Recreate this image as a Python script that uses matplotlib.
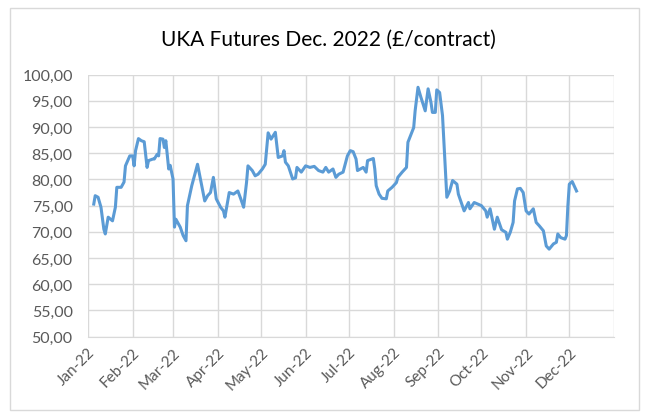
import matplotlib
matplotlib.use("Agg")
import matplotlib.pyplot as plt
import matplotlib.dates as mdates
from matplotlib.patches import Rectangle
from matplotlib.ticker import FuncFormatter, MultipleLocator
import pandas as pd

plt.rcParams['font.family'] = ['Lato', 'DejaVu Sans']

title = "UKA Futures Dec. 2022 (£/contract)"

dates = [
    "2022-01-05", "2022-01-06", "2022-01-08", "2022-01-10", "2022-01-12", "2022-01-13",
    "2022-01-15", "2022-01-18", "2022-01-20", "2022-01-21", "2022-01-24", "2022-01-26",
    "2022-01-27", "2022-01-30", "2022-02-01", "2022-02-02", "2022-02-03", "2022-02-05",
    "2022-02-07", "2022-02-09", "2022-02-11", "2022-02-12", "2022-02-15", "2022-02-16",
    "2022-02-18", "2022-02-19", "2022-02-20", "2022-02-22", "2022-02-23", "2022-02-24",
    "2022-02-26", "2022-02-27", "2022-03-01", "2022-03-02", "2022-03-03", "2022-03-06",
    "2022-03-08", "2022-03-10", "2022-03-11", "2022-03-14", "2022-03-18", "2022-03-20",
    "2022-03-23", "2022-03-25", "2022-03-27", "2022-03-29", "2022-03-31", "2022-04-03",
    "2022-04-05", "2022-04-06", "2022-04-09", "2022-04-12", "2022-04-15", "2022-04-17",
    "2022-04-19", "2022-04-21", "2022-04-22", "2022-04-25", "2022-04-27", "2022-04-29",
    "2022-05-02", "2022-05-04", "2022-05-06", "2022-05-08", "2022-05-11", "2022-05-13",
    "2022-05-16", "2022-05-17", "2022-05-18", "2022-05-20", "2022-05-23", "2022-05-25",
    "2022-05-26", "2022-05-29", "2022-06-01", "2022-06-04", "2022-06-07", "2022-06-10",
    "2022-06-13", "2022-06-15", "2022-06-17", "2022-06-20", "2022-06-22", "2022-06-24",
    "2022-06-27", "2022-06-30", "2022-07-02", "2022-07-04", "2022-07-06", "2022-07-07",
    "2022-07-11", "2022-07-13", "2022-07-14", "2022-07-18", "2022-07-19", "2022-07-20",
    "2022-07-22", "2022-07-24", "2022-07-27", "2022-07-28", "2022-07-31", "2022-08-03",
    "2022-08-04", "2022-08-07", "2022-08-10", "2022-08-11", "2022-08-15", "2022-08-16",
    "2022-08-18", "2022-08-20", "2022-08-23", "2022-08-25", "2022-08-27", "2022-08-28",
    "2022-08-30", "2022-08-31", "2022-09-02", "2022-09-04", "2022-09-07", "2022-09-09",
    "2022-09-11", "2022-09-14", "2022-09-15", "2022-09-17", "2022-09-19", "2022-09-22",
    "2022-09-23", "2022-09-26", "2022-10-01", "2022-10-04", "2022-10-05", "2022-10-07",
    "2022-10-10", "2022-10-12", "2022-10-15", "2022-10-18", "2022-10-19", "2022-10-21",
    "2022-10-23", "2022-10-24", "2022-10-26", "2022-10-28", "2022-10-30", "2022-11-01",
    "2022-11-03", "2022-11-06", "2022-11-08", "2022-11-10", "2022-11-13", "2022-11-15",
    "2022-11-17", "2022-11-20", "2022-11-22", "2022-11-23", "2022-11-25", "2022-11-28",
    "2022-11-29", "2022-11-30", "2022-12-01", "2022-12-03", "2022-12-06",
]

prices = [
    75.3, 76.9, 76.6, 74.7, 70.5, 69.6,
    72.8, 72.1, 74.7, 78.5, 78.5, 79.5,
    82.6, 84.5, 84.5, 82.6, 85.5, 87.8,
    87.4, 87.2, 82.3, 83.6, 83.9, 83.9,
    84.8, 84.5, 87.8, 87.7, 86.1, 87.4,
    82.0, 82.7, 80.1, 70.9, 72.4, 70.9,
    69.3, 68.3, 75.0, 78.8, 82.9, 80.1,
    75.9, 76.9, 77.5, 80.4, 76.3, 74.7,
    74.0, 72.8, 77.5, 77.2, 77.8, 76.3,
    74.7, 79.4, 82.6, 81.7, 80.7, 81.0,
    82.0, 82.9, 88.9, 87.7, 89.0, 84.2,
    84.5, 85.5, 83.3, 82.6, 80.1, 80.3,
    82.3, 81.4, 82.6, 82.3, 82.5, 81.7,
    81.4, 82.3, 81.4, 82.0, 80.4, 81.0,
    81.4, 84.5, 85.5, 85.3, 83.9, 81.7,
    82.3, 81.4, 83.6, 84.0, 82.0, 78.8,
    77.2, 76.4, 76.3, 77.8, 78.5, 79.4,
    80.4, 81.4, 82.3, 87.1, 89.9, 93.1,
    97.6, 95.7, 93.1, 97.3, 94.7, 92.8,
    92.8, 97.1, 96.6, 92.2, 76.6, 77.8,
    79.8, 79.1, 77.2, 75.6, 74.0, 75.6,
    74.4, 75.6, 75.0, 74.0, 72.8, 74.4,
    70.5, 72.8, 70.4, 69.9, 68.6, 69.9,
    71.8, 75.9, 78.2, 78.3, 77.5, 74.0,
    73.4, 74.4, 71.8, 71.2, 70.2, 67.3,
    66.7, 67.7, 68.0, 69.6, 68.9, 68.6,
    69.3, 75.0, 79.1, 79.6, 77.8,
]

x_start, x_end = "2022-01-01", "2023-01-01"
y_min, y_max, y_step = 50, 100, 5

fig = plt.figure(figsize=(6.49, 4.14), dpi=100)
fig.patch.set_facecolor("white")
fig.patches.append(Rectangle((10 / 649, 1 - 411 / 414), 629 / 649, 402 / 414,
                             transform=fig.transFigure, fill=False,
                             edgecolor="#D9D9D9", linewidth=1.0))

ax = fig.add_axes([88 / 649, 1 - 337.6 / 414, (614 - 88) / 649, (337.6 - 75.7) / 414])
ax.plot(pd.to_datetime(dates), prices, color="#5B9BD5", linewidth=2.2,
        solid_joinstyle="round", zorder=3)

ax.set_xlim(pd.Timestamp(x_start), pd.Timestamp(x_end))
ax.set_ylim(y_min, y_max)
ax.yaxis.set_major_locator(MultipleLocator(y_step))
ax.yaxis.set_major_formatter(FuncFormatter(lambda v, p: f"{v:.2f}".replace(".", ",")))

ax.grid(True, color="#D9D9D9", linewidth=1.0, zorder=0)
ax.set_axisbelow(True)
for s in ax.spines.values():
    s.set_visible(False)
ax.spines["bottom"].set_visible(True)
ax.spines["bottom"].set_color("#D9D9D9")
ax.tick_params(axis="both", length=0, colors="#595959")
ax.tick_params(axis="y", pad=11, labelsize=11.5)
ax.tick_params(axis="x", pad=6, labelsize=11)

ticks = mdates.date2num(pd.date_range(x_start, x_end, freq="MS"))
labels = [mdates.num2date(t).strftime("%b-%y") for t in ticks]
ax.set_xticks(ticks)
ax.set_xticklabels([l if i < len(ticks) - 1 else "" for i, l in enumerate(labels)],
                   rotation=45, ha="right", rotation_mode="anchor")

fig.text(328 / 649, 1 - 40 / 414, title, ha="center", va="center",
         fontsize=15, color="#000000")

fig.savefig("out.png", dpi=100)
